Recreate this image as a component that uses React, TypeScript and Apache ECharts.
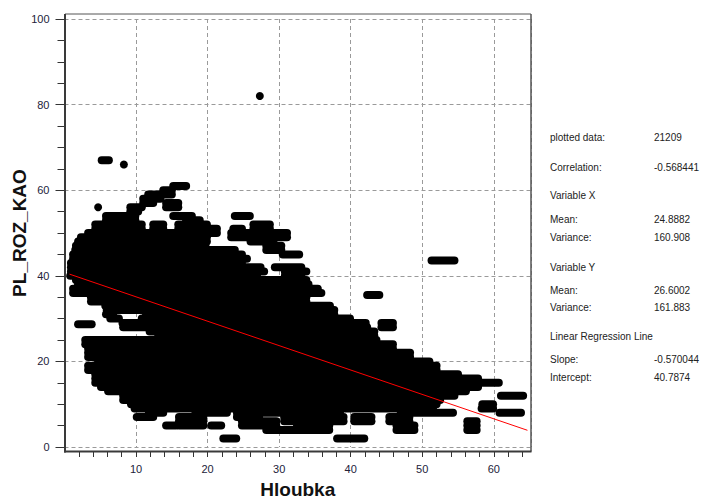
import React, { useEffect, useRef } from "react";
import * as echarts from "echarts";

// Axis tick positions
const xTickValues = [2, 4, 6, 8, 10, 12, 14, 16, 18, 20, 22, 24, 26, 28, 30, 32, 34, 36, 38, 40, 42, 44, 46, 48, 50, 52, 54, 56, 58, 60, 62, 64];
const xLabelValues = [10, 20, 30, 40, 50, 60];
const xMin = 0;
const xMax = 65.2;
const yMin = 0;
const yMax = 100;
const yInterval = 20;

// Plotted observations, grouped into horizontal runs of overlapping points:
// [PL_ROZ_KAO, Hloubka from, Hloubka to]
const pointRuns: [number, number, number][] = [
  [82, 27.3, 27.3],
  [67, 5.2, 6.2],
  [66, 8.3, 8.3],
  [56, 4.7, 4.7],
  [43.6, 51.3, 54.5],
  [35.5, 42.3, 44.0],
  [28.7, 1.9, 3.8],
  [61, 15.2, 17.0],
  [60, 13.8, 15.0],
  [59, 11.7, 15.0],
  [58, 11.0, 13.4],
  [57, 11.0, 12.4], [57, 14.2, 15.9],
  [56, 9.2, 10.8], [56, 14.2, 15.9],
  [55, 9.2, 10.3],
  [54, 5.8, 9.9], [54, 15.2, 17.8], [54, 23.8, 25.9],
  [53, 5.8, 9.9], [53, 17.0, 18.9],
  [52, 4.3, 10.8], [52, 12.4, 13.8], [52, 15.9, 19.9], [52, 26.4, 28.7],
  [51, 4.3, 10.8], [51, 12.4, 13.8], [51, 15.9, 21.3], [51, 23.6, 24.8], [51, 26.4, 28.7],
  [50, 3.3, 21.3], [50, 23.3, 31.1],
  [49, 2.3, 19.9], [49, 23.3, 31.1],
  [48, 1.9, 19.9], [48, 26.0, 29.2],
  [47, 1.6, 19.7], [47, 28.2, 30.3],
  [46, 1.5, 23.8], [46, 28.2, 30.3],
  [45, 1.2, 24.8], [45, 30.5, 32.8],
  [44, 1.2, 25.5],
  [43, 0.9, 24.8],
  [42, 0.9, 27.4], [42, 29.4, 33.1],
  [41, 0.9, 27.9], [41, 30.8, 33.8],
  [40, 0.8, 26.9], [40, 30.8, 33.1],
  [39, 1.6, 33.8],
  [38, 1.9, 34.1],
  [37, 1.2, 35.4],
  [36, 1.2, 35.9],
  [35, 3.7, 33.8],
  [34, 3.7, 33.8],
  [33, 5.7, 37.1],
  [32, 5.9, 37.7],
  [31, 5.8, 6.8], [31, 11.4, 37.7],
  [30, 6.4, 7.6], [30, 10.8, 39.9],
  [29, 8.1, 42.1], [29, 44.3, 45.9],
  [28, 8.2, 42.3], [28, 44.3, 45.9],
  [27, 11.9, 43.3],
  [26, 13.1, 43.3],
  [25, 2.9, 43.6],
  [24, 2.9, 45.9],
  [23, 3.3, 45.9],
  [22, 3.3, 48.3],
  [21, 3.3, 48.3],
  [20, 4.7, 51.0],
  [19, 3.3, 52.0],
  [18, 3.3, 52.0],
  [17, 4.3, 55.0],
  [16, 4.3, 57.8],
  [15, 4.3, 60.7],
  [14, 5.1, 57.8],
  [13, 6.1, 56.1],
  [12, 8.2, 54.5], [12, 61.0, 64.1],
  [11, 8.2, 52.5],
  [10, 9.3, 52.0], [10, 58.4, 59.9],
  [9, 9.8, 51.5], [9, 58.3, 59.9],
  [8, 11.8, 13.8], [8, 18.3, 22.7], [8, 24.1, 38.5], [8, 47.0, 54.3], [8, 60.8, 63.8],
  [7, 10.1, 12.4], [7, 16.0, 19.4], [7, 24.1, 27.2], [7, 30.7, 39.0], [7, 40.5, 42.9], [7, 45.4, 48.2],
  [6, 16.0, 19.4], [6, 24.8, 29.6], [6, 30.7, 39.0], [6, 40.5, 42.9], [6, 45.4, 48.2], [6, 56.3, 57.6],
  [5, 14.2, 15.6], [5, 16.0, 19.4], [5, 20.5, 21.9], [5, 24.8, 29.6], [5, 32.5, 37.0], [5, 46.4, 48.9], [5, 56.3, 57.6],
  [4, 28.2, 37.0], [4, 46.4, 48.9], [4, 56.3, 57.6],
  [2, 22.2, 24.0], [2, 38.1, 41.9],
];

// Summary statistics
const statLabels = [
  "plotted data:",
  "Correlation:",
  "Variable X",
  "Mean:",
  "Variance:",
  "Variable Y",
  "Mean:",
  "Variance:",
  "Linear Regression Line",
  "Slope:",
  "Intercept:",
];
const statValues = ["21209", "-0.568441", "", "24.8882", "160.908", "", "26.6002", "161.883", "", "-0.570044", "40.7874"];

// Regression line y = intercept + slope * x, over the observed depth range
const slope = -0.570044;
const intercept = 40.7874;
const depthMin = 0.7;
const depthMax = 64.7;

const WIDTH = 703;
const HEIGHT = 499;
const plotLeft = 64.5;
const plotRight = 531;
const plotTop = 19;
const plotBottom = 447;
const statRowTop = [137, 167, 195, 219, 237, 267, 290, 307, 336, 359, 377];

export default function App() {
  const ref = useRef<HTMLDivElement>(null);

  useEffect(() => {
    if (!ref.current) return;
    const chart = echarts.init(ref.current, undefined, { renderer: "svg" });

    const gridLine = { show: true, lineStyle: { color: "#9a9a9a", type: [4, 3] as any, width: 1 } };
    const tickFont = { fontFamily: "Liberation Sans", fontSize: 11, color: "#22223a" };
    const titleFont = { fontFamily: "Liberation Sans", fontSize: 19, lineHeight: 19, fontWeight: "bold" as const, color: "#111" };

    const boxTop = plotTop - 5;
    const boxBottom = plotBottom + 4.5;

    const graphic: any[] = [
      { type: "line", z: 50, shape: { x1: plotLeft + 0.5, y1: boxTop, x2: plotRight, y2: boxTop }, style: { stroke: "#555", lineWidth: 1 } },
      { type: "line", z: 50, shape: { x1: plotRight, y1: boxTop, x2: plotRight, y2: boxBottom }, style: { stroke: "#555", lineWidth: 1.5 } },
      { type: "line", z: 50, shape: { x1: plotLeft + 0.5, y1: boxTop, x2: plotLeft + 0.5, y2: boxBottom + 1 }, style: { stroke: "#3a3a3a", lineWidth: 2 } },
      { type: "line", z: 50, shape: { x1: plotLeft - 0.5, y1: boxBottom, x2: plotRight + 0.5, y2: boxBottom }, style: { stroke: "#3a3a3a", lineWidth: 2 } },
    ];
    statLabels.forEach((label, i) => {
      graphic.push({
        type: "text",
        x: 550,
        y: statRowTop[i],
        style: { text: label, fontFamily: "Liberation Sans", fontSize: 10, fill: "#222", verticalAlign: "middle", align: "left" },
      });
      if (statValues[i]) {
        graphic.push({
          type: "text",
          x: 654,
          y: statRowTop[i],
          style: { text: statValues[i], fontFamily: "Liberation Sans", fontSize: 10, fill: "#222", verticalAlign: "middle", align: "left" },
        });
      }
    });

    chart.setOption({
      animation: false,
      backgroundColor: "#ffffff",
      grid: {
        left: plotLeft,
        right: WIDTH - plotRight,
        top: plotTop,
        bottom: HEIGHT - plotBottom,
        containLabel: false,
        outerBoundsMode: "none",
      },
      xAxis: [
        {
          type: "value",
          position: "top",
          min: xMin,
          max: xMax,
          interval: 10,
          axisLine: { show: false },
          axisTick: { show: false },
          axisLabel: { show: false },
          splitLine: gridLine,
        },
        {
          type: "value",
          position: "bottom",
          offset: 4,
          min: xMin,
          max: xMax,
          axisLine: { show: false },
          axisTick: { show: true, customValues: xTickValues, length: 6, lineStyle: { color: "#333", width: 1 } },
          axisLabel: { show: true, customValues: xLabelValues, margin: 12, ...tickFont },
          splitLine: { show: false },
          name: "Hloubka",
          nameLocation: "middle",
          nameGap: 29,
          nameTextStyle: titleFont,
        },
      ],
      yAxis: {
        type: "value",
        min: yMin,
        max: yMax,
        interval: yInterval,
        axisLine: { show: false },
        axisTick: { show: true, length: 9, lineStyle: { color: "#333", width: 1 } },
        minorTick: { show: true, splitNumber: 4, length: 7, lineStyle: { color: "#333", width: 1 } },
        axisLabel: { margin: 15, ...tickFont },
        splitLine: gridLine,
        name: "PL_ROZ_KAO",
        nameLocation: "middle",
        nameGap: 36,
        nameRotate: 90,
        nameMoveOverlap: false,
        nameTextStyle: titleFont,
      },
      graphic,
      series: [
        {
          type: "custom",
          xAxisIndex: 1,
          clip: true,
          data: pointRuns,
          encode: { x: [1, 2], y: 0 },
          renderItem: (_params: any, api: any) => {
            const y = api.value(0);
            const x1 = api.value(1);
            const x2 = api.value(2);
            const p1 = api.coord([x1, y]);
            const p2 = api.coord([x2, y]);
            if (x2 - x1 < 1e-6) {
              return { type: "circle", shape: { cx: p1[0], cy: p1[1], r: 4 }, style: { fill: "#000" } };
            }
            return {
              type: "line",
              shape: { x1: p1[0], y1: p1[1], x2: p2[0], y2: p2[1] },
              style: { stroke: "#000", lineWidth: 8, lineCap: "round" },
            };
          },
          z: 2,
        },
        {
          type: "line",
          xAxisIndex: 1,
          data: [
            [depthMin, intercept + slope * depthMin],
            [depthMax, intercept + slope * depthMax],
          ],
          symbol: "none",
          lineStyle: { color: "#ff0000", width: 1 },
          z: 5,
        },
      ],
    });

    return () => chart.dispose();
  }, []);

  return (
    <div
      ref={ref}
      style={{ position: "fixed", left: 0, top: 0, width: WIDTH, height: HEIGHT, background: "#fff" }}
    />
  );
}
